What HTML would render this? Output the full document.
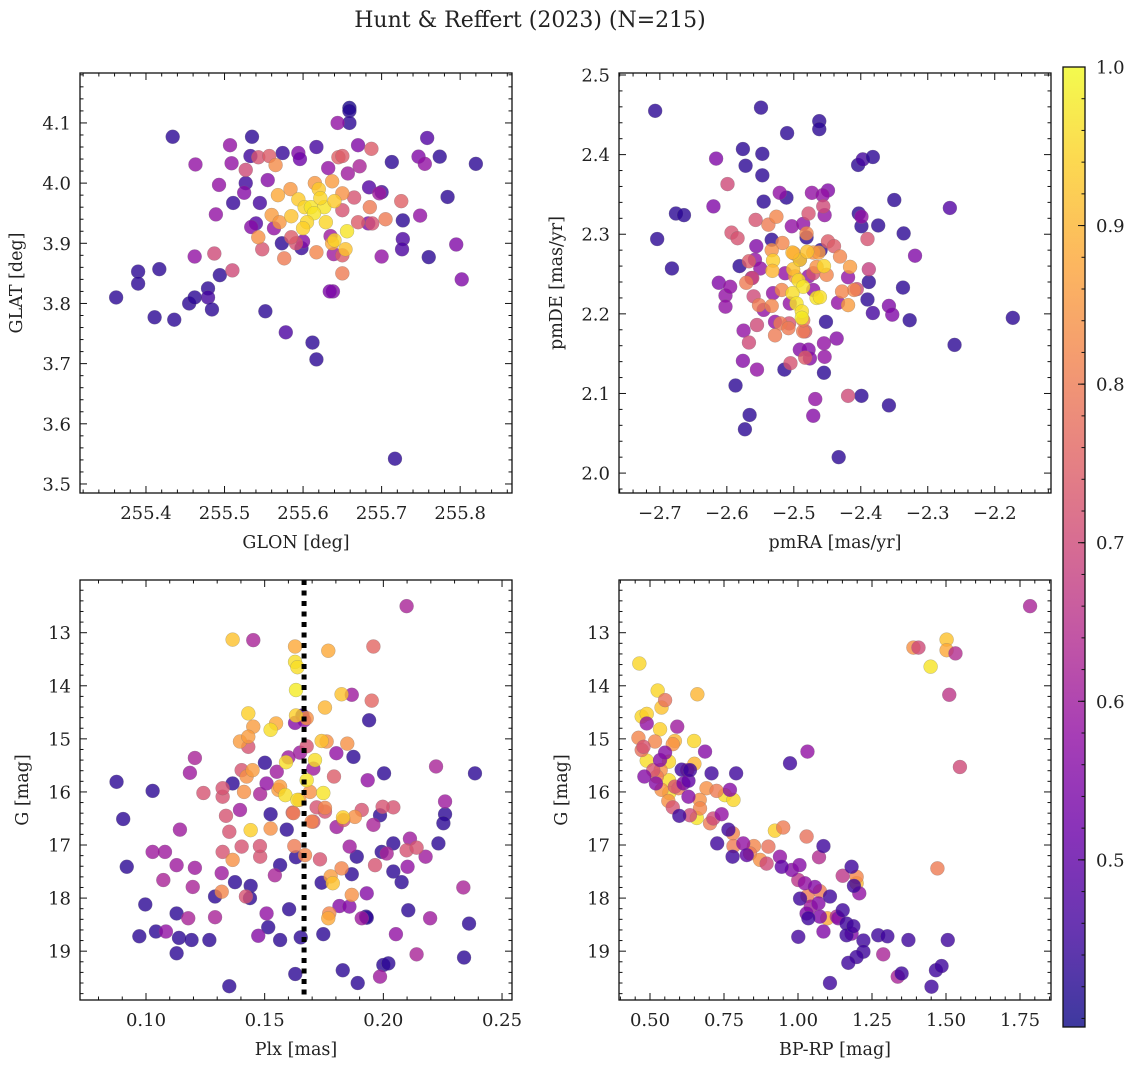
<!DOCTYPE html>
<html><head><meta charset="utf-8">
<style>
html,body{margin:0;padding:0;background:#fff;}
svg{display:block;font-family:"DejaVu Serif","Liberation Serif",serif;}
</style></head>
<body>
<svg id="fig" width="1136" height="1067" viewBox="0 0 1136 1067" xmlns="http://www.w3.org/2000/svg">
<defs>
<linearGradient id="plasma" x1="0" y1="1" x2="0" y2="0">
<stop offset="0" stop-color="#0d0887"/><stop offset="0.1" stop-color="#41049d"/><stop offset="0.2" stop-color="#6a00a8"/><stop offset="0.3" stop-color="#8f0da4"/><stop offset="0.4" stop-color="#b12a90"/><stop offset="0.5" stop-color="#cc4778"/><stop offset="0.6" stop-color="#e16462"/><stop offset="0.7" stop-color="#f2844b"/><stop offset="0.8" stop-color="#fca636"/><stop offset="0.9" stop-color="#fcce25"/><stop offset="1" stop-color="#f0f921"/>
</linearGradient>
</defs>
<text x="530" y="27" font-size="22" text-anchor="middle" fill="#222">Hunt &amp; Reffert (2023) (N=215)</text>
</svg>
<script>
// ---- Panel 1: GLON vs GLAT ----
const p1x=[255.362,255.39,255.39,255.417,255.411,255.436,255.434,255.455,255.462,255.479,255.479,255.484,255.494,255.511,255.527,255.533,255.535,255.552,255.578,255.612,255.617,255.659,255.659,255.659,255.717,255.713,255.727,255.727,255.726,255.76,255.774,255.758,255.784,255.82,255.574,255.573,255.598,255.7,255.684,255.545,255.54,255.617,
255.802,255.795,255.507,255.463,255.493,255.489,255.462,255.509,255.525,255.534,255.594,255.596,255.644,255.67,255.747,255.755,255.749,255.7,255.638,255.634,255.639,255.683,255.697,255.632,255.657,255.672,255.555,255.563,255.6,255.635,
255.487,255.51,255.527,255.543,255.557,255.548,255.645,255.65,255.687,255.725,255.665,255.67,255.65,255.591,255.585,255.688,255.65,
255.565,255.584,255.543,255.576,255.617,255.65,255.685,255.705,255.637,255.615,255.65,255.568,255.56,255.57,255.637,
255.594,255.602,255.61,255.62,255.627,255.622,255.64,255.614,255.605,255.585,255.6,255.629,255.656,255.654,255.64];
const p1y=[3.81,3.853,3.833,3.857,3.777,3.773,4.077,3.8,3.81,3.825,3.81,3.79,3.847,3.967,4.0,4.045,4.077,3.787,3.752,3.735,3.707,4.125,4.12,4.1,3.542,4.035,3.938,3.907,3.89,3.877,4.044,4.075,3.977,4.032,4.05,3.9,3.892,3.985,3.993,3.967,3.933,4.06,
3.84,3.898,4.063,4.031,3.997,3.948,3.878,4.033,3.984,3.927,4.05,4.04,4.1,4.063,4.044,4.032,3.946,3.878,3.82,3.82,3.882,3.933,3.983,4.025,4.016,4.028,4.005,3.925,3.903,3.912,
3.883,3.855,4.022,4.043,4.045,3.89,4.043,4.045,4.057,3.97,3.976,3.935,3.88,3.9,3.91,3.933,3.955,
4.03,3.99,3.91,3.875,3.885,3.85,3.96,3.94,4.003,4.0,3.983,3.98,3.947,3.935,3.9,
3.973,3.96,3.96,3.99,3.96,3.975,3.97,3.95,3.935,3.945,3.925,3.935,3.92,3.89,3.905];
const p1c=[0.43,0.43,0.43,0.43,0.43,0.43,0.43,0.43,0.43,0.43,0.46,0.43,0.43,0.44,0.45,0.45,0.43,0.43,0.47,0.43,0.43,0.41,0.42,0.43,0.43,0.43,0.43,0.47,0.47,0.43,0.43,0.48,0.43,0.43,0.44,0.43,0.44,0.45,0.48,0.46,0.48,0.46,
0.55,0.55,0.58,0.58,0.58,0.58,0.58,0.58,0.56,0.56,0.55,0.52,0.58,0.55,0.55,0.58,0.58,0.58,0.55,0.54,0.6,0.55,0.6,0.58,0.6,0.62,0.56,0.58,0.56,0.6,
0.7,0.7,0.7,0.72,0.74,0.72,0.75,0.74,0.74,0.75,0.72,0.74,0.74,0.72,0.74,0.72,0.72,
0.83,0.85,0.84,0.8,0.82,0.8,0.8,0.8,0.86,0.85,0.84,0.88,0.86,0.85,0.88,
0.93,0.95,0.97,0.93,0.97,0.95,0.93,0.97,0.95,0.92,0.94,0.95,0.97,0.92,0.95];
// ---- Panel 2: pmRA vs pmDE ----
const p2x=[-2.707,-2.704,-2.676,-2.664,-2.682,-2.549,-2.51,-2.462,-2.462,-2.576,-2.572,-2.547,-2.547,-2.545,-2.511,-2.404,-2.397,-2.382,-2.35,-2.403,-2.399,-2.374,-2.336,-2.337,-2.388,-2.39,-2.382,-2.327,-2.267,-2.26,-2.173,-2.358,-2.399,-2.433,-2.587,-2.566,-2.573,-2.455,-2.452,-2.581,-2.533,-2.481,-2.46,-2.514,
-2.616,-2.62,-2.612,-2.602,-2.602,-2.575,-2.576,-2.555,-2.471,-2.468,-2.436,-2.455,-2.454,-2.491,-2.478,-2.476,-2.358,-2.353,-2.319,-2.419,-2.434,-2.521,-2.473,-2.449,-2.457,-2.454,-2.399,-2.503,-2.486,-2.556,-2.558,-2.55,-2.595,-2.563,-2.531,-2.545,-2.528,-2.513,-2.491,-2.478,-2.471,-2.506,
-2.599,-2.557,-2.593,-2.584,-2.567,-2.562,-2.56,-2.555,-2.567,-2.505,-2.483,-2.419,-2.478,-2.456,-2.388,-2.39,-2.406,-2.449,-2.44,-2.471,-2.507,-2.483,
-2.538,-2.526,-2.517,-2.533,-2.481,-2.471,-2.463,-2.451,-2.431,-2.416,-2.41,-2.419,-2.428,-2.571,-2.552,-2.533,-2.518,-2.52,-2.528,-2.508,-2.486,-2.466,-2.498,-2.5,-2.486,
-2.531,-2.532,-2.501,-2.491,-2.493,-2.486,-2.502,-2.496,-2.488,-2.488,-2.466,-2.461,-2.455,-2.48,-2.502];
const p2y=[2.455,2.294,2.326,2.324,2.257,2.459,2.427,2.442,2.432,2.407,2.386,2.401,2.374,2.341,2.346,2.387,2.394,2.397,2.343,2.326,2.31,2.311,2.301,2.233,2.24,2.218,2.201,2.192,2.333,2.161,2.195,2.085,2.097,2.02,2.11,2.073,2.055,2.126,2.19,2.26,2.293,2.296,2.28,2.13,
2.395,2.335,2.239,2.223,2.209,2.179,2.141,2.13,2.072,2.093,2.169,2.163,2.146,2.155,2.155,2.144,2.21,2.199,2.273,2.246,2.214,2.352,2.352,2.355,2.349,2.324,2.322,2.31,2.313,2.285,2.268,2.257,2.234,2.245,2.226,2.205,2.19,2.251,2.268,2.247,2.23,2.213,
2.363,2.318,2.302,2.295,2.266,2.245,2.222,2.186,2.164,2.138,2.145,2.097,2.326,2.335,2.256,2.294,2.231,2.291,2.285,2.251,2.188,2.178,
2.312,2.322,2.289,2.28,2.301,2.277,2.277,2.249,2.272,2.259,2.23,2.211,2.228,2.239,2.211,2.21,2.23,2.188,2.173,2.182,2.178,2.259,2.247,2.276,2.192,
2.267,2.254,2.256,2.268,2.242,2.234,2.226,2.213,2.203,2.195,2.22,2.221,2.26,2.278,2.277];
const p2c=[0.43,0.43,0.43,0.43,0.43,0.43,0.43,0.43,0.43,0.43,0.43,0.43,0.43,0.43,0.43,0.43,0.46,0.43,0.43,0.43,0.43,0.43,0.43,0.43,0.43,0.43,0.46,0.43,0.48,0.43,0.43,0.43,0.43,0.43,0.43,0.43,0.43,0.43,0.43,0.43,0.43,0.43,0.43,0.43,
0.55,0.55,0.55,0.58,0.58,0.58,0.56,0.58,0.56,0.58,0.56,0.58,0.58,0.56,0.56,0.56,0.55,0.55,0.55,0.58,0.58,0.58,0.58,0.55,0.58,0.58,0.58,0.58,0.58,0.55,0.58,0.58,0.58,0.58,0.58,0.58,0.58,0.58,0.58,0.58,0.58,0.58,
0.7,0.72,0.72,0.72,0.74,0.7,0.7,0.7,0.7,0.72,0.74,0.7,0.72,0.7,0.68,0.72,0.7,0.74,0.74,0.72,0.72,0.72,
0.8,0.82,0.82,0.84,0.82,0.84,0.86,0.82,0.82,0.86,0.82,0.86,0.82,0.8,0.8,0.82,0.82,0.8,0.8,0.8,0.8,0.84,0.84,0.86,0.8,
0.94,0.9,0.92,0.95,0.96,0.97,0.96,0.97,0.96,0.98,0.97,0.96,0.95,0.92,0.9];
// ---- Panel 3: Plx vs G ----
const p3x=[0.0876,0.0904,0.0919,0.0972,0.0997,0.1028,0.1042,0.1129,0.1139,0.1192,0.1129,0.1267,0.1291,0.1351,0.1375,0.1365,0.1441,0.1438,0.1501,0.1515,0.1525,0.1565,0.1603,0.1593,0.1565,0.1632,0.1629,0.1652,0.1747,0.174,0.1867,0.1888,0.1874,0.194,0.1927,0.1829,0.1892,0.2,0.2021,0.1986,0.1993,0.2003,0.2042,0.2042,0.2077,0.2105,0.226,0.2253,0.2232,0.234,0.2361,0.2386,0.193,0.1659,
0.108,0.1028,0.1129,0.1206,0.1197,0.1178,0.1084,0.1185,0.1206,0.1143,0.1073,0.1291,0.1319,0.1481,0.1508,0.1452,0.1543,0.1508,0.1473,0.1649,0.1667,0.1628,0.1802,0.1867,0.1934,0.1815,0.1857,0.193,0.1909,0.1986,0.2053,0.2098,0.214,0.2222,0.2178,0.2102,0.2337,0.2197,0.2112,0.226,0.2014,0.1958,0.1858,0.1803,0.1551,0.16,0.1705,0.1396,
0.1242,0.1323,0.1337,0.1351,0.1323,0.1403,0.1403,0.1431,0.1421,0.1481,0.148,0.1958,0.1951,0.1792,0.1754,0.1832,0.1965,0.1909,0.2042,0.1997,0.2098,0.214,0.1733,0.1618,0.1719,0.1677,0.1705,0.1323,
0.1365,0.1319,0.1413,0.1424,0.1449,0.1452,0.1396,0.1431,0.1548,0.1525,0.1558,0.1621,0.1625,0.167,0.1698,0.1691,0.1677,0.1628,0.1768,0.1754,0.1848,0.1824,0.1867,0.1772,0.188,0.1778,0.1646,0.1761,0.1565,
0.1365,0.1628,0.1638,0.1632,0.1431,0.1632,0.1754,0.1824,0.1441,0.1525,0.159,0.1587,0.1638,0.1677,0.1712,0.1747,0.183,0.174,0.1787,0.1768];
const p3y=[15.81,16.51,17.41,18.72,18.12,15.98,18.63,18.29,18.75,18.79,19.04,18.79,17.97,19.66,17.7,15.84,17.77,18.0,15.45,18.55,16.42,18.79,18.21,16.71,17.38,17.23,19.43,18.74,18.68,17.71,17.55,17.22,15.34,14.65,18.35,19.36,19.6,19.26,19.23,16.44,17.13,15.65,16.97,17.5,17.7,18.23,16.42,16.59,16.97,19.12,18.48,15.65,18.37,14.56,
17.13,17.13,17.38,17.43,17.79,18.38,18.63,15.64,15.36,16.71,17.66,18.36,17.53,16.04,15.84,13.14,17.57,18.29,18.71,15.26,14.65,14.7,15.27,14.17,15.78,18.15,18.16,17.91,18.38,19.48,18.68,12.5,19.06,15.52,17.22,17.41,17.8,18.38,16.88,16.18,17.16,16.62,17.03,16.66,15.62,15.35,15.56,16.34,
16.02,16.09,16.45,16.75,17.13,17.03,15.59,15.15,17.97,17.22,17.02,13.26,14.28,15.71,16.37,16.53,17.38,16.34,16.29,16.28,17.1,17.05,17.27,16.39,16.29,15.14,16.56,15.93,
17.28,17.88,16.0,15.71,15.59,14.77,15.05,14.96,14.71,16.69,15.96,16.4,17.02,17.19,16.56,16.0,14.61,13.26,13.34,16.3,15.09,17.44,17.94,18.29,16.47,17.59,16.15,15.05,15.9,
13.13,13.55,13.65,14.08,14.52,14.56,14.41,14.16,16.72,14.83,15.44,16.06,16.15,15.78,15.4,16.02,16.48,15.04,17.72,18.38];
const p3c=[0.43,0.43,0.43,0.43,0.43,0.43,0.43,0.43,0.43,0.43,0.43,0.43,0.43,0.43,0.43,0.43,0.43,0.43,0.43,0.43,0.43,0.43,0.43,0.43,0.43,0.43,0.43,0.43,0.43,0.43,0.43,0.43,0.43,0.43,0.43,0.43,0.43,0.43,0.43,0.43,0.43,0.43,0.43,0.43,0.43,0.43,0.43,0.43,0.43,0.43,0.43,0.43,0.43,0.45,
0.6,0.6,0.6,0.6,0.62,0.62,0.58,0.6,0.62,0.6,0.62,0.62,0.6,0.62,0.58,0.62,0.62,0.58,0.56,0.6,0.58,0.56,0.58,0.6,0.58,0.56,0.56,0.56,0.6,0.6,0.58,0.62,0.62,0.62,0.6,0.58,0.62,0.6,0.6,0.6,0.62,0.62,0.6,0.6,0.6,0.6,0.6,0.6,
0.72,0.72,0.72,0.72,0.72,0.72,0.72,0.72,0.72,0.72,0.72,0.76,0.76,0.74,0.72,0.72,0.72,0.72,0.72,0.72,0.72,0.72,0.72,0.74,0.72,0.72,0.72,0.72,
0.84,0.82,0.84,0.84,0.86,0.86,0.86,0.86,0.88,0.84,0.86,0.8,0.8,0.82,0.82,0.84,0.84,0.88,0.88,0.82,0.84,0.82,0.84,0.82,0.84,0.86,0.86,0.84,0.86,
0.92,0.96,0.96,0.98,0.94,0.94,0.9,0.92,0.94,0.96,0.96,0.96,0.96,0.97,0.96,0.97,0.94,0.92,0.92,0.88];
// ---- Panel 4: BP-RP vs G ----
const p4x=[0.464,0.526,0.66,0.472,0.489,0.539,0.534,0.649,0.584,0.489,0.564,0.564,0.565,0.65,0.753,0.782,0.658,0.922,1.448,1.502,1.502,1.198,
0.461,0.517,0.577,0.536,0.523,0.539,0.562,0.596,0.691,0.725,0.668,0.669,0.703,0.78,0.782,0.851,0.838,0.872,0.9,0.95,1.029,1.032,1.074,1.099,1.471,1.39,1.198,0.551,0.472,
0.478,0.511,0.626,0.584,0.577,0.635,0.714,1.407,1.547,1.511,1.532,1.784,1.288,1.337,1.151,1.071,1.001,1.043,1.131,0.894,
0.489,0.592,0.686,1.032,0.534,0.551,0.481,0.52,0.613,0.63,0.742,0.77,0.815,0.939,0.979,1.005,1.023,1.057,1.029,1.086,1.136,1.181,1.207,1.069,1.074,
0.599,0.607,0.63,0.635,0.708,0.791,0.973,0.765,0.727,0.779,0.827,0.945,1.001,1.086,1.181,1.189,1.007,1.035,1.108,1.151,1.164,1.164,1.221,1.221,1.198,1.17,1.108,1.271,1.302,1.373,1.506,1.35,1.451,1.466,1.485,1.187];
const p4y=[13.58,14.09,14.16,14.58,14.53,14.41,14.82,15.04,15.04,15.41,15.43,15.78,16.02,15.47,16.06,16.15,16.49,16.73,13.64,13.13,13.33,17.72,
14.98,15.05,15.1,15.59,15.71,15.96,16.17,15.93,15.93,15.98,16.15,16.31,16.59,16.78,17.02,17.02,17.16,17.28,17.03,16.67,16.84,17.96,17.87,18.38,17.44,13.28,17.6,14.27,15.21,
15.15,15.59,15.59,15.9,16.29,16.44,16.5,13.28,15.53,14.17,13.39,12.5,19.06,19.48,17.58,17.23,17.66,18.16,18.35,17.35,
14.71,14.77,15.24,15.24,15.4,15.26,15.71,15.84,15.84,16.09,16.42,15.96,16.97,17.22,17.47,17.38,17.72,17.79,18.29,18.63,18.38,18.67,17.91,18.1,18.35,
16.45,15.58,15.79,15.59,15.65,15.65,15.46,16.71,16.97,17.22,17.19,17.41,18.73,17.02,17.41,17.77,18.01,18.38,17.97,18.23,18.48,18.7,18.8,19.01,19.11,19.22,19.6,18.7,18.72,18.79,18.79,19.42,19.67,19.36,19.28,18.53];
const p4c=[0.95,0.95,0.9,0.95,0.94,0.92,0.94,0.95,0.9,0.96,0.95,0.96,0.96,0.9,0.96,0.95,0.97,0.94,0.97,0.92,0.88,0.9,
0.82,0.82,0.84,0.84,0.8,0.84,0.84,0.8,0.84,0.8,0.84,0.82,0.8,0.82,0.8,0.82,0.8,0.84,0.78,0.8,0.78,0.8,0.8,0.88,0.8,0.84,0.82,0.78,0.78,
0.72,0.72,0.72,0.72,0.72,0.7,0.7,0.7,0.7,0.66,0.64,0.62,0.62,0.62,0.66,0.64,0.66,0.6,0.64,0.7,
0.58,0.6,0.56,0.58,0.56,0.56,0.56,0.56,0.54,0.56,0.58,0.56,0.58,0.58,0.56,0.56,0.58,0.56,0.55,0.55,0.56,0.55,0.58,0.56,0.55,
0.45,0.45,0.5,0.45,0.45,0.45,0.45,0.45,0.45,0.45,0.5,0.5,0.46,0.45,0.45,0.45,0.45,0.45,0.45,0.45,0.45,0.45,0.45,0.45,0.45,0.45,0.45,0.45,0.45,0.45,0.45,0.45,0.45,0.45,0.45,0.45];
// reference line
const plxRef=[0.1666];
// colorbar
const cbTicks=[0.5,0.6,0.7,0.8,0.9,1.0];
const cbMin=0.3946, cbMax=1.0;

const NS='http://www.w3.org/2000/svg';
const svg=document.getElementById('fig');
function mk(tag,attrs,parent){const e=document.createElementNS(NS,tag);for(const k in attrs)e.setAttribute(k,attrs[k]);(parent||svg).appendChild(e);return e;}

const stops=[[13,8,135],[65,4,157],[106,0,168],[143,13,164],[177,42,144],[204,71,120],[225,100,98],[242,132,75],[252,166,54],[252,206,37],[240,249,33]];
function plasma(v){let t=(v-cbMin)/(cbMax-cbMin);t=Math.max(0,Math.min(1,t));const f=t*10,i=Math.min(9,Math.floor(f)),r=f-i;const a=stops[i],b=stops[i+1];return 'rgb('+[0,1,2].map(k=>Math.round(a[k]+(b[k]-a[k])*r)).join(',')+')';}

function fmt(v,d){return (v<0?'\u2212':'')+Math.abs(v).toFixed(d);}

const TF=18, LF=17.5;
function panel(cfg){
  const g=mk('g',{});
  
  
  const {L,R,T,B}=cfg;
  const sx=v=>L+(v-cfg.xmin)/(cfg.xmax-cfg.xmin)*(R-L);
  const sy=cfg.yinv?(v=>T+(v-cfg.ymin)/(cfg.ymax-cfg.ymin)*(B-T)):(v=>B-(v-cfg.ymin)/(cfg.ymax-cfg.ymin)*(B-T));
  const pg=mk('g',{},g);
  
  
  for(let i=0;i<cfg.x.length;i++){
    const c=mk('circle',{cx:sx(cfg.x[i]),cy:sy(cfg.y[i]),r:7,fill:plasma(cfg.c[i]),'fill-opacity':0.8,stroke:'#777','stroke-width':0.4,'stroke-opacity':0.6},pg);
    
    
  }
  if(cfg.extra)cfg.extra(g,sx,sy);
  const fr=mk('rect',{x:L,y:T,width:R-L,height:B-T,fill:'none',stroke:'#111','stroke-width':1.3},g);
  
  
  const eps=1e-9;
  const xs=Math.ceil(cfg.xmin/cfg.xminor-eps);
  for(let k=xs;k*cfg.xminor<=cfg.xmax+eps;k++){
    const v=k*cfg.xminor,px=sx(v);
    const major=Math.abs(v/cfg.xmajor-Math.round(v/cfg.xmajor))<1e-6;
    const len=major?7:3.5;
    mk('line',{x1:px,x2:px,y1:B,y2:B-len,stroke:'#111','stroke-width':1},g);
    mk('line',{x1:px,x2:px,y1:T,y2:T+len,stroke:'#111','stroke-width':1},g);
    if(major && v>=cfg.xlabMin-eps){
      const t=mk('text',{x:px,y:B+26,'font-size':TF,'text-anchor':'middle',fill:'#222'},g);
      t.textContent=fmt(v,cfg.xd);
      
      
    }
  }
  const ys=Math.ceil(cfg.ymin/cfg.yminor-eps);
  for(let k=ys;k*cfg.yminor<=cfg.ymax+eps;k++){
    const v=k*cfg.yminor,py=sy(v);
    const major=Math.abs(v/cfg.ymajor-Math.round(v/cfg.ymajor))<1e-6;
    const len=major?7:3.5;
    mk('line',{x1:L,x2:L+len,y1:py,y2:py,stroke:'#111','stroke-width':1},g);
    mk('line',{x1:R,x2:R-len,y1:py,y2:py,stroke:'#111','stroke-width':1},g);
    if(major){
      const t=mk('text',{x:L-9,y:py+6.5,'font-size':TF,'text-anchor':'end',fill:'#222'},g);
      t.textContent=fmt(v,cfg.yd);
      
      
    }
  }
  const xl=mk('text',{x:(L+R)/2,y:B+55,'font-size':LF,'text-anchor':'middle',fill:'#222'},g);
  xl.textContent=cfg.xlabel;
  
  
  const yx=cfg.ylx, yy=(T+B)/2;
  const yl=mk('text',{x:yx,y:yy,'font-size':LF,'text-anchor':'middle',fill:'#222',transform:'rotate(-90 '+yx+' '+yy+')'},g);
  yl.textContent=cfg.ylabel;
  
  
}

panel({name:'glon-glat-panel',L:80,R:512,T:73,B:493,xmin:255.316,xmax:255.866,ymin:3.485,ymax:4.183,xmajor:0.1,xminor:0.02,ymajor:0.1,yminor:0.02,xd:1,yd:1,xlabMin:255.4,x:p1x,y:p1y,c:p1c,xlabel:'GLON [deg]',ylabel:'GLAT [deg]',ylx:22});
panel({name:'pm-panel',L:619,R:1051,T:73,B:493,xmin:-2.761,xmax:-2.116,ymin:1.975,ymax:2.5025,xmajor:0.1,xminor:0.02,ymajor:0.1,yminor:0.02,xd:1,yd:1,xlabMin:-3,x:p2x,y:p2y,c:p2c,xlabel:'pmRA [mas/yr]',ylabel:'pmDE [mas/yr]',ylx:562});
panel({name:'plx-g-panel',L:80,R:512,T:580,B:1000,xmin:0.0722,xmax:0.2542,ymin:12.007,ymax:19.92,yinv:true,xmajor:0.05,xminor:0.01,ymajor:1,yminor:0.2,xd:2,yd:0,xlabMin:0,x:p3x,y:p3y,c:p3c,xlabel:'Plx [mas]',ylabel:'G [mag]',ylx:28,
  extra:(g,sx,sy)=>{plxRef.forEach(v=>{const l=mk('line',{x1:sx(v),x2:sx(v),y1:580,y2:1000,stroke:'#000','stroke-width':5,'stroke-dasharray':'5 5.5'},g);});}});
panel({name:'cmd-panel',L:619,R:1051,T:580,B:1000,xmin:0.3953,xmax:1.8547,ymin:12.007,ymax:19.92,yinv:true,xmajor:0.25,xminor:0.05,ymajor:1,yminor:0.2,xd:2,yd:0,xlabMin:0,x:p4x,y:p4y,c:p4c,xlabel:'BP-RP [mag]',ylabel:'G [mag]',ylx:567});

(function(){
  const L=1063,R=1085,T=67,B=1027;
  const g=mk('g',{});
  
  
  const bar=mk('rect',{x:L,y:T,width:R-L,height:B-T,fill:'url(#plasma)','fill-opacity':0.8},g);
  
  
  mk('rect',{x:L,y:T,width:R-L,height:B-T,fill:'none',stroke:'#111','stroke-width':1.3},g);
  const sy=v=>B-(v-cbMin)/(cbMax-cbMin)*(B-T);
  for(let k=Math.ceil(cbMin/0.02-1e-9);k*0.02<=cbMax+1e-9;k++){
    const v=k*0.02,py=sy(v);
    mk('line',{x1:R,x2:R-3.5,y1:py,y2:py,stroke:'#111','stroke-width':1},g);
  }
  cbTicks.forEach(v=>{
    const py=sy(v);
    mk('line',{x1:R,x2:R-7,y1:py,y2:py,stroke:'#111','stroke-width':1},g);
    const t=mk('text',{x:R+11,y:py+6.5,'font-size':TF,fill:'#222'},g);
    t.textContent=v.toFixed(1);
    
    
  });
})();
</script>
</body></html>
